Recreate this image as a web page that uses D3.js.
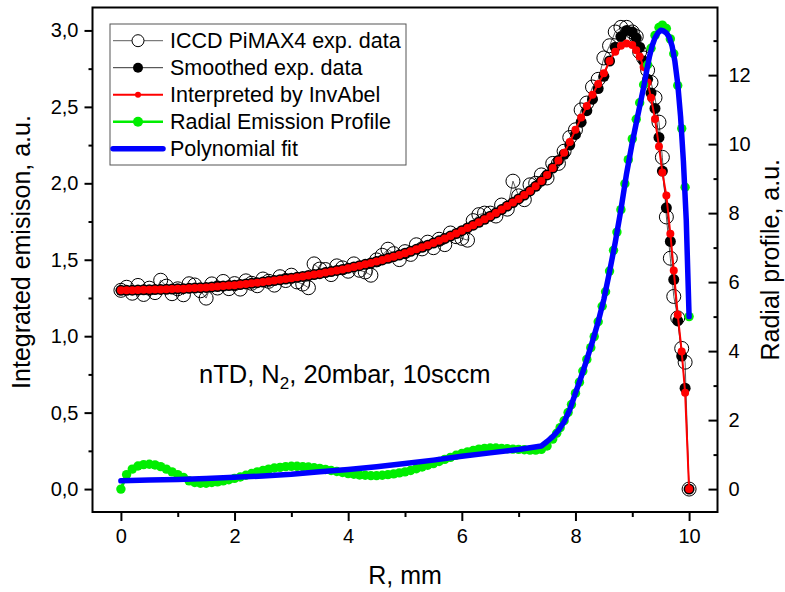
<!DOCTYPE html>
<html>
<head>
<meta charset="utf-8">
<script src="https://cdn.jsdelivr.net/npm/d3@7"></script>
<style>
body { margin: 0; background: #fff; }
svg { font-family: "Liberation Sans", Arial, sans-serif; }
</style>
</head>
<body>
<div id="chart"></div>
<script>
const width = 785;
const height = 592;
const margin = { top: 7.5, right: 67.5, bottom: 80, left: 92.5 };

// R grid of the integrated emission data (mm)
const upperR = [0,0.1,0.2,0.3,0.4,0.5,0.6,0.7,0.8,0.9,
    1,1.1,1.2,1.3,1.4,1.5,1.6,1.7,1.8,1.9,
    2,2.1,2.2,2.3,2.4,2.5,2.6,2.7,2.8,2.9,
    3,3.1,3.2,3.3,3.4,3.5,3.6,3.7,3.8,3.9,
    4,4.1,4.2,4.3,4.4,4.5,4.6,4.7,4.8,4.9,
    5,5.1,5.2,5.3,5.4,5.5,5.6,5.7,5.8,5.9,
    6,6.1,6.2,6.3,6.4,6.5,6.6,6.7,6.8,6.9,
    7,7.1,7.2,7.3,7.4,7.5,7.6,7.7,7.8,7.9,
    8,8.1,8.2,8.3,8.4,8.5,8.6,8.7,8.8,8.9,
    9,9.07,9.13,9.2,9.27,9.33,9.4,9.47,9.53,9.6,9.67,9.73,9.8,9.87,9.93,10];

// ICCD PiMAX4 exp. data (left axis)
const expData = [1.300,1.320,1.281,1.332,1.273,1.314,1.285,1.366,1.327,1.278,
    1.310,1.271,1.343,1.335,1.297,1.249,1.342,1.315,1.358,1.311,
    1.344,1.308,1.362,1.346,1.330,1.374,1.359,1.334,1.389,1.364,
    1.399,1.355,1.341,1.317,1.473,1.439,1.436,1.403,1.460,1.447,
    1.425,1.473,1.431,1.420,1.399,1.499,1.529,1.569,1.540,1.501,
    1.553,1.535,1.598,1.571,1.615,1.579,1.634,1.599,1.675,1.651,
    1.640,1.628,1.756,1.795,1.805,1.805,1.786,1.858,1.831,2.014,
    1.918,1.893,1.990,2.000,2.055,2.035,2.130,2.130,2.210,2.300,
    2.350,2.480,2.525,2.630,2.680,2.820,2.900,2.990,3.020,3.020,
    2.99,2.96,2.86,2.82,2.74,2.66,2.56,2.40,2.17,1.78,1.51,1.26,1.12,0.92,0.83,0];

// Smoothed exp. data (left axis)
const smoothData = [1.300,1.300,1.301,1.302,1.303,1.304,1.305,1.306,1.307,1.308,
    1.310,1.311,1.313,1.315,1.317,1.319,1.322,1.325,1.328,1.331,
    1.334,1.338,1.342,1.346,1.350,1.354,1.359,1.364,1.369,1.374,
    1.379,1.385,1.391,1.397,1.403,1.409,1.416,1.423,1.430,1.437,
    1.445,1.453,1.461,1.470,1.479,1.489,1.499,1.509,1.520,1.531,
    1.543,1.555,1.568,1.581,1.595,1.609,1.624,1.639,1.655,1.671,
    1.690,1.708,1.726,1.745,1.765,1.785,1.806,1.828,1.851,1.874,
    1.898,1.923,1.950,1.980,2.015,2.055,2.100,2.150,2.190,2.250,
    2.320,2.400,2.475,2.550,2.620,2.700,2.800,2.890,2.960,3.000,
    2.99,2.95,2.89,2.80,2.68,2.59,2.49,2.30,2.08,1.84,1.62,1.37,1.10,0.87,0.66,0];

// Interpreted by InvAbel (left axis)
const abelData = [1.300,1.300,1.301,1.302,1.303,1.304,1.305,1.306,1.307,1.308,
    1.310,1.311,1.313,1.315,1.317,1.319,1.322,1.325,1.328,1.331,
    1.334,1.338,1.342,1.346,1.350,1.354,1.359,1.364,1.369,1.374,
    1.379,1.385,1.391,1.397,1.403,1.409,1.416,1.423,1.430,1.437,
    1.445,1.453,1.461,1.470,1.479,1.489,1.499,1.509,1.520,1.531,
    1.543,1.555,1.568,1.581,1.595,1.609,1.624,1.639,1.655,1.671,
    1.690,1.708,1.726,1.745,1.765,1.785,1.806,1.828,1.851,1.874,
    1.898,1.923,1.950,1.980,2.015,2.055,2.100,2.150,2.200,2.270,
    2.350,2.430,2.505,2.580,2.650,2.720,2.800,2.860,2.900,2.915,
    2.905,2.870,2.830,2.760,2.660,2.560,2.420,2.240,2.070,1.920,1.670,1.430,1.140,0.900,0.630,0];

// Radial Emission Profile (right axis)
const radialR = upperR.slice(0, 77).concat([7.67,7.73,7.8,7.87,7.93,8,8.07,8.13,8.2,8.27,8.33,8.4,
    8.47,8.53,8.6,8.67,8.73,8.8,8.87,8.93,9,9.07,9.13,9.2,9.27,9.33,9.4,9.47,9.53,9.6,
    9.67,9.73,9.8,9.87,9.93,10]);
const radialData = [0.00,0.42,0.58,0.67,0.71,0.72,0.70,0.65,0.58,0.50,
    0.42,0.34,0.24,0.19,0.17,0.17,0.19,0.21,0.24,0.27,
    0.31,0.35,0.40,0.45,0.50,0.54,0.58,0.61,0.63,0.65,
    0.66,0.66,0.65,0.64,0.62,0.60,0.57,0.54,0.51,0.48,
    0.45,0.43,0.41,0.40,0.39,0.39,0.40,0.42,0.44,0.47,
    0.50,0.54,0.59,0.64,0.69,0.74,0.80,0.86,0.92,0.98,
    1.03,1.08,1.12,1.16,1.18,1.19,1.19,1.18,1.17,1.16,
    1.15,1.14,1.13,1.13,1.15,1.25,1.45,
    1.62,1.78,1.98,2.22,2.45,2.78,3.10,3.42,3.76,4.10,4.42,4.85,5.30,5.72,6.32,6.92,7.45,8.10,
    8.85,9.55,10.15,10.72,11.20,11.72,12.30,12.78,13.15,13.38,13.45,13.35,13.05,12.62,11.70,10.45,8.75,5.00];

// Polynomial fit (right axis)
const fitR = [0,0.5,1,1.5,2,2.5,3,3.5,4,4.5,5,5.5,6,6.5,7,7.4,
    7.5,7.6,7.7,7.8,7.9,8,8.1,8.2,8.3,8.4,8.5,8.6,8.7,8.8,8.9,9,
    9.05,9.1,9.15,9.2,9.25,9.3,9.35,9.4,9.45,9.5,9.55,9.6,9.65,9.7,9.75,9.8,9.85,9.9,9.95,10];
const fitData = [0.24,0.26,0.28,0.31,0.34,0.38,0.43,0.50,0.57,0.65,0.74,0.84,0.95,1.05,1.15,1.25,
    1.38,1.52,1.70,1.95,2.30,2.78,3.25,3.75,4.28,4.85,5.50,6.30,7.15,8.10,9.15,10.05,
    10.45,10.85,11.25,11.65,12.10,12.52,12.85,13.08,13.22,13.30,13.28,13.22,13.10,12.85,12.40,11.75,10.80,9.50,7.80,5.00];

const xTicks = [0, 2, 4, 6, 8, 10];
const xMinor = [1, 3, 5, 7, 9];
const yLeftTicks = [0, 0.5, 1, 1.5, 2, 2.5, 3];
const yLeftMinor = [0.25, 0.75, 1.25, 1.75, 2.25, 2.75];
const yRightTicks = [0, 2, 4, 6, 8, 10, 12];
const yRightMinor = [1, 3, 5, 7, 9, 11, 13];

const legendItems = ["ICCD PiMAX4 exp. data", "Smoothed exp. data", "Interpreted by InvAbel",
    "Radial Emission Profile", "Polynomial fit"];

const svg = d3.select("#chart")
    .append("svg")
    .attr("width", width)
    .attr("height", height);

const x = d3.scaleLinear().domain([-0.5, 10.5]).range([margin.left, width - margin.right]);
const yL = d3.scaleLinear().domain([-0.15, 3.15]).range([height - margin.bottom, margin.top]);
const yR = d3.scaleLinear().domain([-0.664, 13.96]).range([height - margin.bottom, margin.top]);

const pairs = (rs, vs) => rs.map((r, i) => [r, vs[i]]);
const lineL = d3.line().x(d => x(d[0])).y(d => yL(d[1]));
const lineR = d3.line().x(d => x(d[0])).y(d => yR(d[1]));

// exp. data: open circles
const exp = pairs(upperR, expData);
svg.append("path").datum(exp)
    .attr("d", lineL).attr("fill", "none").attr("stroke", "#333").attr("stroke-width", 0.8);
svg.append("g").selectAll("circle").data(exp).enter().append("circle")
    .attr("cx", d => x(d[0])).attr("cy", d => yL(d[1])).attr("r", 7)
    .attr("fill", "none").attr("stroke", "#000").attr("stroke-width", 1);

// smoothed
const smooth = pairs(upperR, smoothData);
svg.append("path").datum(smooth)
    .attr("d", lineL).attr("fill", "none").attr("stroke", "#333").attr("stroke-width", 1);
svg.append("g").selectAll("circle").data(smooth).enter().append("circle")
    .attr("cx", d => x(d[0])).attr("cy", d => yL(d[1])).attr("r", 5.5)
    .attr("fill", "#000");

// InvAbel
const abel = pairs(upperR, abelData);
svg.append("path").datum(abel)
    .attr("d", lineL).attr("fill", "none").attr("stroke", "#ff0000").attr("stroke-width", 2);
svg.append("g").selectAll("circle").data(abel).enter().append("circle")
    .attr("cx", d => x(d[0])).attr("cy", d => yL(d[1])).attr("r", 4)
    .attr("fill", "#ff0000");

// radial profile
const radial = pairs(radialR, radialData);
svg.append("path").datum(radial)
    .attr("d", lineR).attr("fill", "none").attr("stroke", "#00ee00").attr("stroke-width", 3);
svg.append("g").selectAll("circle").data(radial).enter().append("circle")
    .attr("cx", d => x(d[0])).attr("cy", d => yR(d[1])).attr("r", 4.7)
    .attr("fill", "#00ee00");

// polynomial fit
svg.append("path").datum(pairs(fitR, fitData))
    .attr("d", lineR).attr("fill", "none").attr("stroke", "#0000ff")
    .attr("stroke-width", 5.5).attr("stroke-linejoin", "round").attr("stroke-linecap", "round");

// axes
const bottom = height - margin.bottom;
const right = width - margin.right;
const commaFmt = d => d3.format(".1f")(d).replace(".", ",");

function styleAxis(g) {
    g.select(".domain").remove();
    g.selectAll(".tick line").attr("stroke", "#000").attr("stroke-width", 2);
    g.selectAll(".tick text").attr("fill", "#000").style("font-size", "20px")
        .style("font-family", '"Liberation Sans", Arial, sans-serif');
}

svg.append("g").attr("transform", `translate(0,${bottom})`)
    .call(d3.axisBottom(x).tickValues(xTicks).tickSize(9).tickPadding(8).tickFormat(d3.format("d")))
    .call(styleAxis);
svg.append("g").attr("transform", `translate(0,${bottom})`)
    .call(d3.axisBottom(x).tickValues(xMinor).tickSize(5).tickFormat(""))
    .call(styleAxis);

svg.append("g").attr("transform", `translate(${margin.left},0)`)
    .call(d3.axisLeft(yL).tickValues(yLeftTicks).tickSize(8).tickPadding(6).tickFormat(commaFmt))
    .call(styleAxis);
svg.append("g").attr("transform", `translate(${margin.left},0)`)
    .call(d3.axisLeft(yL).tickValues(yLeftMinor).tickSize(4).tickFormat(""))
    .call(styleAxis);

svg.append("g").attr("transform", `translate(${right},0)`)
    .call(d3.axisRight(yR).tickValues(yRightTicks).tickSize(-9).tickPadding(11).tickFormat(d3.format("d")))
    .call(styleAxis);
svg.append("g").attr("transform", `translate(${right},0)`)
    .call(d3.axisRight(yR).tickValues(yRightMinor).tickSize(-4).tickFormat(""))
    .call(styleAxis);

// frame
svg.append("rect")
    .attr("x", margin.left).attr("y", margin.top)
    .attr("width", right - margin.left).attr("height", bottom - margin.top)
    .attr("fill", "none").attr("stroke", "#000").attr("stroke-width", 2);

// axis titles
svg.append("text")
    .attr("x", (margin.left + right) / 2).attr("y", 584)
    .attr("text-anchor", "middle").style("font-size", "25px")
    .text("R, mm");
svg.append("text")
    .attr("transform", "translate(30,252) rotate(-90)")
    .attr("text-anchor", "middle").style("font-size", "25px")
    .text("Integrated emisison, a.u.");
svg.append("text")
    .attr("transform", `translate(779,${(margin.top + bottom) / 2}) rotate(-90)`)
    .attr("text-anchor", "middle").style("font-size", "25px")
    .text("Radial profile, a.u.");

// annotation
const note = svg.append("text").attr("x", 199).attr("y", 382.7).style("font-size", "25.5px");
note.append("tspan").text("nTD, N");
note.append("tspan").attr("dy", 6).style("font-size", "17px").text("2");
note.append("tspan").attr("dy", -6).text(", 20mbar, 10sccm");

// legend
const legend = svg.append("g");
legend.append("rect")
    .attr("x", 110).attr("y", 24).attr("width", 296).attr("height", 141)
    .attr("fill", "#fff").attr("stroke", "#555").attr("stroke-width", 1);

const rows = legend.selectAll(".legend-item")
    .data(legendItems)
    .enter().append("g")
    .attr("class", "legend-item")
    .attr("transform", (d, i) => `translate(0,${40.7 + i * 27})`);

rows.append("text")
    .attr("x", 170).attr("dy", "0.35em")
    .style("font-size", "21.5px")
    .text(d => d);

const r0 = rows.filter((d, i) => i === 0);
r0.append("line").attr("x1", 113).attr("x2", 163).attr("stroke", "#333").attr("stroke-width", 0.8);
r0.append("circle").attr("cx", 138).attr("r", 6).attr("fill", "#fff").attr("stroke", "#000");

const r1 = rows.filter((d, i) => i === 1);
r1.append("line").attr("x1", 113).attr("x2", 163).attr("stroke", "#333").attr("stroke-width", 1);
r1.append("circle").attr("cx", 138).attr("r", 5).attr("fill", "#000");

const r2 = rows.filter((d, i) => i === 2);
r2.append("line").attr("x1", 113).attr("x2", 163).attr("stroke", "#ff0000").attr("stroke-width", 2);
r2.append("circle").attr("cx", 138).attr("r", 3).attr("fill", "#ff0000");

const r3 = rows.filter((d, i) => i === 3);
r3.append("line").attr("x1", 113).attr("x2", 163).attr("stroke", "#00ee00").attr("stroke-width", 2.5);
r3.append("circle").attr("cx", 138).attr("r", 5).attr("fill", "#00ee00");

const r4 = rows.filter((d, i) => i === 4);
r4.append("line").attr("x1", 113).attr("x2", 163).attr("stroke", "#0000ff")
    .attr("stroke-width", 5.5).attr("stroke-linecap", "round");
</script>
</body>
</html>
